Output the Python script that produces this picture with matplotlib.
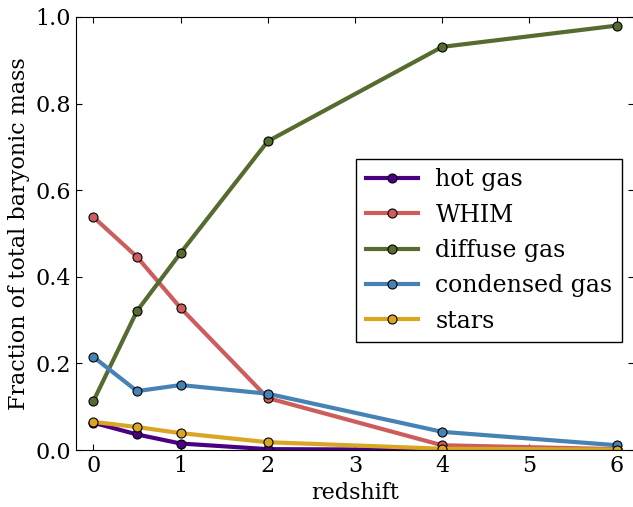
import matplotlib
matplotlib.use("Agg")
import matplotlib.pyplot as plt

# redshift samples and baryon mass fractions per phase
redshift = [0, 0.5, 1, 2, 4, 6]
hot_gas = [0.063, 0.036, 0.015, 0.002, 0.0005, 0.0003]
whim = [0.538, 0.446, 0.328, 0.120, 0.011, 0.002]
diffuse_gas = [0.113, 0.321, 0.455, 0.713, 0.931, 0.980]
condensed_gas = [0.215, 0.136, 0.150, 0.130, 0.042, 0.011]
stars = [0.065, 0.053, 0.039, 0.018, 0.003, 0.001]

labels = ["hot gas", "WHIM", "diffuse gas", "condensed gas", "stars"]
colors = ["#4b0082", "#cd5c5c", "#556b2f", "#4682b4", "#daa520"]

plt.rcParams.update({
    "font.family": "DejaVu Serif",
    "font.size": 16,
    "xtick.direction": "in", "ytick.direction": "in",
    "xtick.top": True, "ytick.right": True,
    "xtick.major.size": 4, "ytick.major.size": 4,
    "mathtext.fontset": "dejavuserif",
})

fig = plt.figure(figsize=(6.33, 5.07), dpi=100)
ax = fig.add_axes([0.120, 0.1124, 0.8816, 0.8541])

for vals, lab, col in zip([hot_gas, whim, diffuse_gas, condensed_gas, stars], labels, colors):
    ax.plot(redshift, vals, "-o", color=col, lw=3, ms=6.5, mec="black", mew=0.8, label=lab)

ax.set_xlim(-0.2, 6.2)
ax.set_ylim(0, 1.0)
ax.set_xticks(range(7))
ax.set_yticks([0, 0.2, 0.4, 0.6, 0.8, 1.0])
ax.set_yticklabels(["0.0", "0.2", "0.4", "0.6", "0.8", "1.0"])
ax.set_xlabel("redshift")
ax.set_ylabel("Fraction of total baryonic mass")

leg = ax.legend(loc="upper right", bbox_to_anchor=(0.9785, 0.672), numpoints=1,
                fontsize=17, handlelength=2.2, fancybox=False, framealpha=1,
                borderpad=0.4, labelspacing=0.52, handletextpad=0.75,
                borderaxespad=0)
leg.get_frame().set_edgecolor("black")

fig.savefig("out.png", dpi=100)
